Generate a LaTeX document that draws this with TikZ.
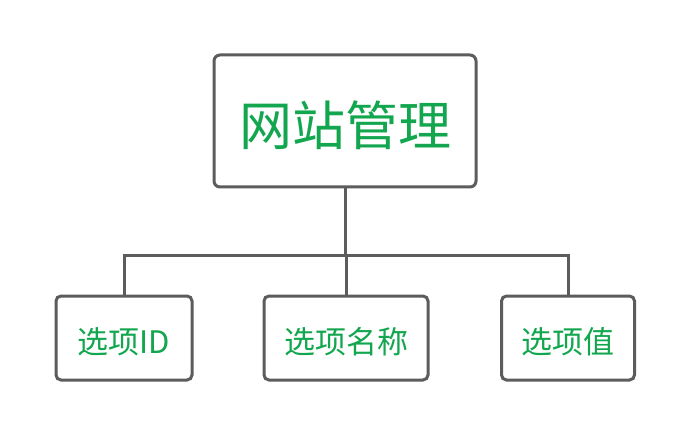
\documentclass[tikz,border=0pt]{standalone}
\usepackage{fontspec}
\newfontfamily\cjk{Noto Sans CJK SC}
\definecolor{boxline}{RGB}{92,92,92}
\definecolor{labelgreen}{RGB}{18,166,78}
\begin{document}
\begin{tikzpicture}[x=1pt,y=-1pt,
  box/.style={draw=boxline,line width=3pt,fill=white,rounded corners=6pt,inner sep=0pt},
  rootbox/.style={box,minimum width=262pt,minimum height=132pt,
    label={[text=labelgreen,font=\cjk\fontsize{53}{53}\selectfont,yshift=-4.5pt]center:#1}},
  leaf/.style={box,rounded corners=5pt,minimum height=84pt,
    label={[text=labelgreen,font=\cjk\fontsize{31}{31}\selectfont,yshift=-3.5pt]center:#1}},
  link/.style={draw=boxline,line width=3pt}]
\useasboundingbox (0,0) rectangle (692,438);
\fill[white] (0,0) rectangle (692,438);
% root
\node[rootbox=网站管理] (root) at (345,121) {};
% children
\node[leaf=选项ID,minimum width=136pt] (c1) at (124,338) {};
\node[leaf=选项名称,minimum width=164pt] (c2) at (346,338) {};
\node[leaf=选项值,minimum width=133pt] (c3) at (568,338) {};
% tree connectors
\coordinate (j) at (346,255);
\draw[link] (root.south) -- (root.south |- j);
\draw[link] (c1.north) -- (c1.north |- j) -- (c3.north |- j) -- (c3.north);
\draw[link] (c2.north) -- (c2.north |- j);
\end{tikzpicture}
\end{document}
